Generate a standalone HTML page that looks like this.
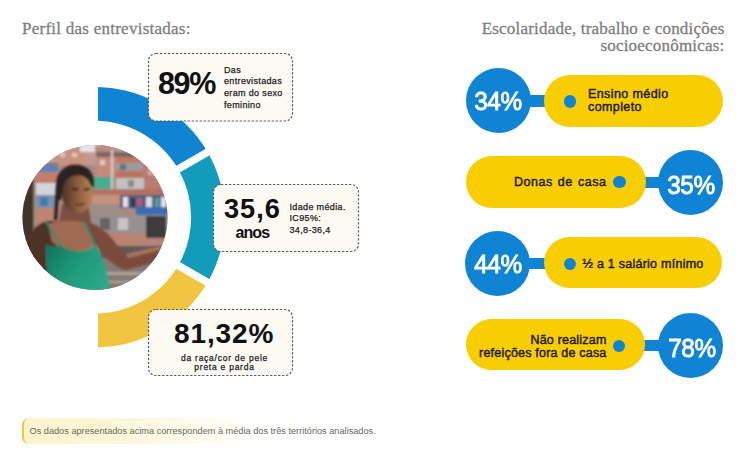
<!DOCTYPE html>
<html><head><meta charset="utf-8">
<style>
*{margin:0;padding:0;box-sizing:border-box}
html,body{width:754px;height:451px;background:#fff;overflow:hidden}
body{position:relative;font-family:"Liberation Sans",sans-serif}
.abs{position:absolute}
.ttl{font-family:"Liberation Serif",serif;color:#7e7e7e;font-size:17px;line-height:17.1px;letter-spacing:0.25px;white-space:nowrap;-webkit-text-stroke:0.3px #7e7e7e}
.big{position:absolute;font-weight:bold;color:#111;white-space:nowrap}
.sm{position:absolute;color:#222;font-size:9px;line-height:11.7px;letter-spacing:0.35px;white-space:nowrap;-webkit-text-stroke:0.25px #222}
.circ{position:absolute;width:65px;height:65px;border-radius:50%;background:#1084d4}
.ct{position:absolute;width:80px;text-align:center;color:#fff;font-size:26.5px;line-height:30px;letter-spacing:-0.4px;white-space:nowrap;-webkit-text-stroke:0.9px #fff;transform:scaleX(0.92)}
.pill{position:absolute;height:51px;border-radius:26px;background:#f9ce00}
.bar{position:absolute;height:12px;background:#1084d4}
.dot{position:absolute;width:12.5px;height:12.5px;border-radius:50%;background:#1084d4}
.pt{position:absolute;color:#1e1a0c;font-size:12.5px;line-height:13.6px;letter-spacing:0.4px;-webkit-text-stroke:0.45px #1e1a0c;white-space:nowrap}
</style></head><body>

<div class="abs ttl" style="left:22px;top:20.3px">Perfil das entrevistadas:</div>
<div class="abs ttl" style="right:29.5px;top:20.3px;text-align:right;letter-spacing:0.2px">Escolaridade, trabalho e condições<br>socioeconômicas:</div>

<svg class="abs" style="left:0;top:0" width="754" height="451" viewBox="0 0 754 451"><defs><clipPath id="rc"><rect x="98" y="0" width="300" height="451"/></clipPath></defs><g clip-path="url(#rc)"><path d="M90.15 86.98A130.3 130.3 0 0 1 207.54 152.05L178.18 169.00A96.4 96.4 0 0 0 91.34 120.86Z" fill="#0f84d2"/><path d="M207.54 152.05A130.3 130.3 0 0 1 207.54 282.35L178.18 265.40A96.4 96.4 0 0 0 178.18 169.00Z" fill="#109cba"/><path d="M207.54 282.35A130.3 130.3 0 0 1 90.15 347.42L91.34 313.54A96.4 96.4 0 0 0 178.18 265.40Z" fill="#f2c540"/><line x1="163.98" y1="177.20" x2="224.60" y2="142.20" stroke="#fff" stroke-width="7.6"/><line x1="163.98" y1="257.20" x2="224.60" y2="292.20" stroke="#fff" stroke-width="7.6"/></g></svg>

<svg class="abs" style="left:20px;top:143px" width="150" height="150" viewBox="20 143 150 150">
<defs>
<clipPath id="cc"><circle cx="95" cy="217.5" r="72.5"/></clipPath>
<filter id="b1" x="-30%" y="-30%" width="160%" height="160%"><feGaussianBlur stdDeviation="0.8"/></filter>
<filter id="b2" x="-30%" y="-30%" width="160%" height="160%"><feGaussianBlur stdDeviation="2"/></filter>
<filter id="b4" x="-30%" y="-30%" width="160%" height="160%"><feGaussianBlur stdDeviation="4"/></filter>
<filter id="b8" x="-30%" y="-30%" width="160%" height="160%"><feGaussianBlur stdDeviation="8"/></filter>
</defs>
<g clip-path="url(#cc)"><defs>
<linearGradient id="fg" x1="0" y1="0" x2="1" y2="0"><stop offset="0" stop-color="#4e3024"/><stop offset="0.5" stop-color="#8a5a3e"/><stop offset="1" stop-color="#b48450"/></linearGradient>
<linearGradient id="tg" x1="0" y1="0" x2="1" y2="0.6"><stop offset="0" stop-color="#127058"/><stop offset="0.55" stop-color="#1f9a7a"/><stop offset="1" stop-color="#2aa888"/></linearGradient>
</defs>
<rect x="10" y="135" width="170" height="165" fill="#a88a84"/>
<g filter="url(#b1)">
<rect x="10" y="135" width="170" height="30" fill="#c09a90"/>
<rect x="56" y="149" width="28" height="17" fill="#c8937f"/>
<rect x="60" y="153" width="5" height="4" fill="#e0c8be"/>
<rect x="72" y="153" width="5" height="4" fill="#e0c8be"/>
<rect x="80" y="135" width="20" height="17" fill="#e4e4e6"/>
<rect x="95" y="145" width="22" height="8" fill="#bb8a80"/>
<rect x="96" y="152" width="46" height="5" fill="#7a6664"/>
<rect x="116" y="157" width="40" height="6" fill="#bf7a62"/>
<rect x="97" y="157" width="19" height="19" fill="#c68a7c"/>
<rect x="100" y="160" width="5" height="5" fill="#e2c8c0"/>
<rect x="116" y="163" width="28" height="8" fill="#9a9aa2"/>
<rect x="120" y="164" width="6" height="6" fill="#6e6e78"/>
<rect x="116" y="171" width="28" height="7" fill="#bc735c"/>
<rect x="143" y="163" width="37" height="26" fill="#bb7c6e"/>
<rect x="148" y="168" width="7" height="7" fill="#d4a898"/>
<rect x="93" y="177" width="19" height="12" fill="#46ae90"/>
<rect x="116" y="178" width="28" height="11" fill="#c4c0c0"/>
<rect x="128" y="180" width="6" height="7" fill="#8c8890"/>
<rect x="111" y="150" width="2.2" height="80" fill="#d0ccc8"/>
<rect x="10" y="163" width="48" height="3" fill="#8a6e66"/>
<rect x="36" y="165" width="22" height="7" fill="#5a82b8"/>
<rect x="36" y="172" width="22" height="11" fill="#c27e68"/>
<rect x="36" y="183" width="22" height="12" fill="#d2d4d8"/>
<rect x="36" y="195" width="22" height="13" fill="#7d92a8"/>
<rect x="40" y="197" width="8" height="9" fill="#3f7ab0"/>
<rect x="36" y="208" width="22" height="14" fill="#c08470"/>
<rect x="88" y="189" width="92" height="6" fill="#b27262"/>
<rect x="92" y="195" width="28" height="9" fill="#c99080"/>
<rect x="92" y="204" width="28" height="12" fill="#a08c88"/>
<rect x="120" y="195" width="60" height="13" fill="#585c7c"/>
<rect x="123" y="197" width="5" height="10" fill="#e4e0e6"/>
<rect x="131" y="198" width="4" height="9" fill="#2f3560"/>
<rect x="137" y="198" width="5" height="8" fill="#b25a76"/>
<rect x="146" y="197" width="6" height="10" fill="#d6dbe6"/>
<rect x="155" y="198" width="4" height="9" fill="#4aa6a0"/>
<rect x="161" y="197" width="5" height="10" fill="#e0e0e8"/>
<rect x="136" y="207" width="44" height="8" fill="#3a6cb4"/>
<rect x="92" y="215" width="88" height="19" fill="#97908f"/>
<rect x="100" y="218" width="10" height="12" fill="#6a6466"/>
<rect x="118" y="218" width="10" height="12" fill="#c8c4c4"/>
<rect x="146" y="216" width="20" height="22" fill="#3e3a3c"/>
<rect x="104" y="233" width="42" height="13" fill="#b88472"/>
<rect x="146" y="238" width="34" height="14" fill="#b48678"/>
<rect x="100" y="246" width="80" height="12" fill="#5f5856"/>
<rect x="100" y="258" width="80" height="42" fill="#847a76"/>
<rect x="100" y="272" width="80" height="3" fill="#aba39e"/>
<rect x="100" y="281" width="80" height="2" fill="#aba39e"/>
<rect x="10" y="170" width="26" height="130" fill="#40352a"/>
<rect x="33.5" y="168" width="2.5" height="70" fill="#a08c80"/>
</g>
<g filter="url(#b1)">
<path d="M10 262 L20 262 C28 256 40 252 50 256 L52 300 L10 300 Z" fill="#2e2420"/>
<path d="M24 246 C28 232 38 222 50 221 L62 221 C58 236 56 252 52 266 C44 270 32 268 24 262 Z" fill="#4e3228"/>
<path d="M62 204 L88 204 L92 228 L58 228 Z" fill="#7e5040"/>
<path d="M48 224 C58 220 80 219 96 226 C98 238 94 248 84 252 C72 253 60 248 52 242 Z" fill="#a06a52"/>
<path d="M86 222 C98 224 108 232 116 244 C120 250 124 254 128 254 L158 246 C162 246 164 250 162 254 L156 262 L126 270 C116 268 106 258 100 250 L92 240 Z" fill="#7a4c3a"/>
<path d="M126 254 L158 246.5 C161 246.5 162 249 160 250 L128 258 Z" fill="#a8765e"/>
<path d="M46 244 C52 248 60 247 60 244 C66 250 76 252 84 251 C90 250 93 247 95 245 C100 252 106 262 110 293 L50 293 C47 276 45 258 46 244 Z" fill="url(#tg)"/>
<path d="M46 222 C50 228 56 238 60 245" stroke="#1a8a6c" stroke-width="2.2" fill="none"/>
<path d="M84 222 C88 230 92 238 95 246" stroke="#1a8a6c" stroke-width="2.2" fill="none"/>
<path d="M62 176 C62 168 68 164 76 164 C86 164 92 170 92 182 L92 200 C90 208 84 213 78 213 C70 213 63 206 62 196 Z" fill="url(#fg)"/>
<path d="M56 186 C56 172 64 165 76 165 C86 165 93 170 94 182 L93.5 188 L91 186 C89 178 83 175 77 175.5 C69 176 65 180 63 187 L61 200 L57 200 Z" fill="#2b2321"/>
<path d="M57.5 186 C57 198 56.5 208 55.5 220" stroke="#2b2321" stroke-width="3.5" fill="none"/>
<path d="M72 189 L78 189.5" stroke="#2a1a14" stroke-width="1.8"/>
<path d="M84 189.5 L90 189" stroke="#2a1a14" stroke-width="1.8"/>
<path d="M75 204 Q80 205.5 85 203.5" stroke="#5a3026" stroke-width="1.5" fill="none"/>
</g>
</g>
</svg>

<svg class="abs" style="left:147px;top:51.5px" width="147" height="70.5"><rect x="1.5" y="1.5" width="144" height="67.5" rx="7.5" fill="#fdf9f3" stroke="#5a5a5a" stroke-width="1.2" stroke-dasharray="2.3 1.7"/></svg>
<div class="big" style="left:158px;top:68px;font-size:30.5px;line-height:31px;letter-spacing:-1.4px">89%</div>
<div class="sm" style="left:224px;top:64.5px">Das<br>entrevistadas<br>eram do sexo<br>feminino</div>

<svg class="abs" style="left:212px;top:183px" width="148" height="70"><rect x="1.5" y="1.5" width="145" height="67" rx="7.5" fill="#fdf9f3" stroke="#5a5a5a" stroke-width="1.2" stroke-dasharray="2.3 1.7"/></svg>
<div class="big" style="left:224px;top:193px;font-size:27.2px;line-height:31px;letter-spacing:1px">35,6</div>
<div class="big" style="left:235.5px;top:225px;font-size:16px;line-height:16px;letter-spacing:-0.9px">anos</div>
<div class="sm" style="left:289.5px;top:201.5px">Idade média.<br>IC95%:<br>34,8-36,4</div>

<svg class="abs" style="left:147px;top:308px" width="147" height="69"><rect x="1.5" y="1.5" width="144" height="66" rx="7.5" fill="#fdf9f3" stroke="#5a5a5a" stroke-width="1.2" stroke-dasharray="2.3 1.7"/></svg>
<div class="big" style="left:174px;top:318px;font-size:28px;line-height:31px;letter-spacing:0.9px">81,32%</div>
<div class="sm" style="left:152px;width:145px;text-align:center;top:354px;font-size:8.5px;line-height:8.6px;letter-spacing:0.75px">da raça/cor de pele<br>preta e parda</div>

<div class="bar" style="left:525px;top:95px;width:25px"></div><div class="pill" style="left:544px;top:75px;width:179px;height:51.5px"></div><div class="circ" style="left:465.5px;top:68.3px"></div><div class="ct" style="left:458.1px;top:86.3px">34%</div><div class="dot" style="left:563.6px;top:95.3px"></div><div class="pt" style="left:588px;top:87.5px">Ensino médio<br>completo</div><div class="bar" style="left:640px;top:176.7px;width:25px;height:11.3px"></div><div class="pill" style="left:465.5px;top:156.4px;width:180px;height:51.2px"></div><div class="circ" style="left:658.3px;top:149.8px"></div><div class="ct" style="left:651.4px;top:169.6px">35%</div><div class="dot" style="left:613.1px;top:175.8px"></div><div class="pt" style="right:147.5px;top:175.5px;text-align:right;letter-spacing:0.55px;word-spacing:1px">Donas de casa</div><div class="bar" style="left:525px;top:257.8px;width:25px;height:11.6px"></div><div class="pill" style="left:544.3px;top:237.4px;width:178.2px;height:51px"></div><div class="circ" style="left:465.2px;top:231.4px"></div><div class="ct" style="left:457.7px;top:249.2px">44%</div><div class="dot" style="left:563.7px;top:257.8px"></div><div class="pt" style="left:582.5px;top:257.5px;letter-spacing:0.25px">½ a 1 salário mínimo</div><div class="bar" style="left:640px;top:339.7px;width:25px;height:11px"></div><div class="pill" style="left:465.5px;top:318.9px;width:179.2px;height:51px"></div><div class="circ" style="left:658.3px;top:312.7px"></div><div class="ct" style="left:651.5px;top:333.0px">78%</div><div class="dot" style="left:612.9px;top:339.5px"></div><div class="pt" style="right:147.5px;top:333.5px;text-align:right;letter-spacing:0.2px">Não realizam<br>refeições fora de casa</div>

<div class="abs" style="left:22px;top:417.5px;width:330px;height:26.5px;border-left:2px solid #f4cc30;border-radius:7px 0 0 7px;background:linear-gradient(90deg,#fcf4cc 0%,#fcf6d6 25%,#fefbec 50%,#fffef8 65%,#fff 75%)"></div>
<div class="abs" style="left:29.5px;top:425.5px;font-size:9.2px;line-height:10px;color:#6a6860;white-space:nowrap">Os dados apresentados acima correspondem à média dos três territórios analisados.</div>

</body></html>
